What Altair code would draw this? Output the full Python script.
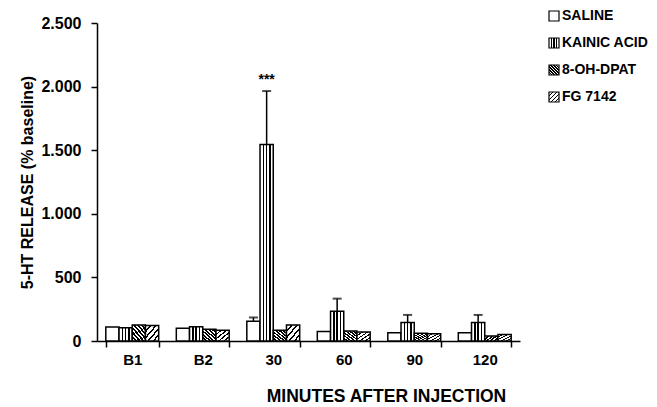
import altair as alt
import pandas as pd

minutes = ["B1", "B2", "30", "60", "90", "120"]
series_names = ["SALINE", "KAINIC ACID", "8-OH-DPAT", "FG 7142"]

saline = [110, 100, 155, 75, 65, 65]
saline_err = [None, None, 185, None, None, None]
kainic = [105, 112, 1545, 233, 145, 145]
kainic_err = [None, None, 1965, 333, 205, 205]
dpat = [125, 92, 85, 79, 60, 40]
fg = [122, 84, 125, 70, 57, 52]
kainic_sig = ["", "", "***", "", "", ""]

y_ticks = [0, 500, 1000, 1500, 2000, 2500]

rows = []
for s, vals, errs, sig in [
    ("SALINE", saline, saline_err, [""] * 6),
    ("KAINIC ACID", kainic, kainic_err, kainic_sig),
    ("8-OH-DPAT", dpat, [None] * 6, [""] * 6),
    ("FG 7142", fg, [None] * 6, [""] * 6),
]:
    for m, v, e, g in zip(minutes, vals, errs, sig):
        rows.append({"minute": m, "series": s, "value": v, "err": e, "sig": g})
df = pd.DataFrame(rows)
legend_df = pd.DataFrame({"series": series_names})


def stripes(n, w, x1, y1, x2, y2):
    stops = [{"offset": 0, "color": "white"}]
    for i in range(n):
        c = (i + 1) / (n + 1)
        a, b = c - w / 2, c + w / 2
        stops += [
            {"offset": a, "color": "white"},
            {"offset": a, "color": "black"},
            {"offset": b, "color": "black"},
            {"offset": b, "color": "white"},
        ]
    stops.append({"offset": 1, "color": "white"})
    return {"gradient": "linear", "x1": x1, "y1": y1, "x2": x2, "y2": y2, "stops": stops}


fills = {
    "SALINE": "white",
    "KAINIC ACID": stripes(3, 0.11, 0, 0, 1, 0),
    "8-OH-DPAT": stripes(6, 0.08, 0, 1, 1, 0),
    "FG 7142": stripes(4, 0.07, 0, 0, 1, 1),
}

FONT = "Liberation Sans"

x_enc = alt.X(
    "minute:N",
    sort=minutes,
    scale=alt.Scale(domain=minutes, paddingInner=0.25, paddingOuter=0.125),
    axis=alt.Axis(
        title="MINUTES AFTER INJECTION",
        labelAngle=0,
        tickBand="extent",
        tickSize=6,
        tickWidth=1.5,
        tickColor="black",
        domainColor="black",
        domainWidth=1.5,
        labelFont=FONT,
        labelFontSize=15,
        labelFontWeight="bold",
        labelColor="black",
        labelPadding=5,
        titleFont=FONT,
        titleFontSize=17.5,
        titleFontWeight="bold",
        titleColor="black",
        titlePadding=20,
        titleX=289,
        grid=False,
    ),
)
xo_enc = alt.XOffset("series:N", scale=alt.Scale(domain=series_names, paddingInner=0, paddingOuter=0))
y_axis = alt.Axis(
    title="5-HT RELEASE (% baseline)",
    values=y_ticks,
    labelExpr="replace(format(datum.value, ','), ',', '.')",
    tickSize=6,
    tickWidth=1.5,
    tickColor="black",
    domainColor="black",
    domainWidth=1.5,
    labelFont=FONT,
    labelFontSize=16,
    labelFontWeight="bold",
    labelColor="black",
    labelPadding=10,
    titleFont=FONT,
    titleFontSize=16,
    titleFontWeight="bold",
    titleColor="black",
    titlePadding=5,
    grid=False,
)
y_scale = alt.Scale(domain=[0, 2500], nice=False)

base = alt.Chart(df)

layers = []
for s in series_names:
    layers.append(
        base.transform_filter(alt.datum.series == s)
        .mark_bar(fill=fills[s], stroke="black", strokeWidth=1.5)
        .encode(x=x_enc, xOffset=xo_enc, y=alt.Y("value:Q", scale=y_scale, axis=y_axis))
    )

err_base = base.transform_filter("isValid(datum.err)")
rule = err_base.mark_rule(color="black", strokeWidth=1.5).encode(
    x=x_enc, xOffset=xo_enc, y=alt.Y("value:Q", scale=y_scale, axis=y_axis), y2="err:Q"
)
cap = err_base.mark_tick(color="black", size=9, thickness=2).encode(
    x=x_enc, xOffset=xo_enc, y=alt.Y("err:Q", scale=y_scale, axis=y_axis)
)
stars = base.transform_filter("datum.sig != ''").mark_text(
    dy=-11, fontSize=14, fontWeight="bold", font=FONT, color="black"
).encode(x=x_enc, xOffset=xo_enc, y=alt.Y("err:Q", scale=y_scale, axis=y_axis), text="sig:N")

main = alt.layer(*layers, rule, cap, stars).properties(width=423, height=318)

ly = alt.Y("series:N", sort=series_names, axis=None,
           scale=alt.Scale(type="point", domain=series_names, padding=0))
leg_layers = []
for s in series_names:
    leg_layers.append(
        alt.Chart(legend_df)
        .transform_filter(alt.datum.series == s)
        .mark_square(size=100, fill=fills[s], stroke="black", strokeWidth=1.2, opacity=1, yOffset=-7)
        .encode(x=alt.value(5), y=ly)
    )
leg_text = alt.Chart(legend_df).mark_text(
    align="left", baseline="middle", fontSize=14, fontWeight="bold", font=FONT, color="black", yOffset=-7
).encode(x=alt.value(13), y=ly, text="series:N")
legend = alt.layer(*leg_layers, leg_text).properties(width=90, height=81)

chart = (
    alt.hconcat(main, legend, spacing=29, bounds="flush")
    .properties(padding={"left": 11, "top": 0, "right": 0, "bottom": 0})
    .configure_view(stroke=None)
)

chart.save("out.html", embed_options={"renderer": "svg", "actions": False})
